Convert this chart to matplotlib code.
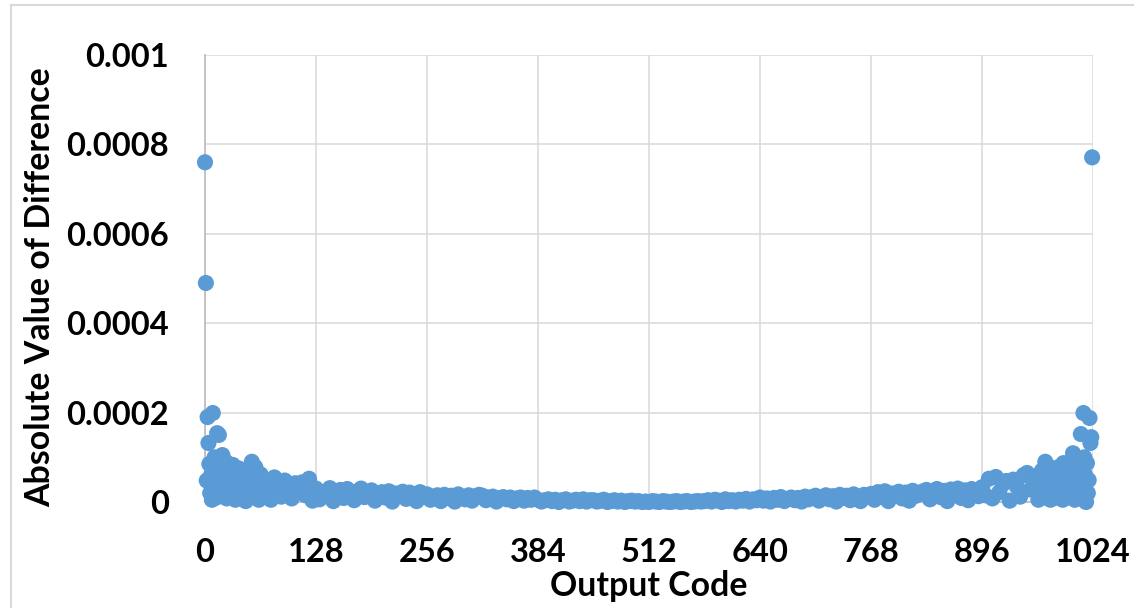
import numpy as np
import matplotlib
matplotlib.use('Agg')
from matplotlib import pyplot as plt
from matplotlib.lines import Line2D

# values are in units of 1e-6
left_codes = np.arange(0, 64)
left_vals = [760, 490, 48, 190, 132, 85, 20, 60, 5, 199, 40, 100, 70, 10, 154, 30,
             150, 55, 80, 15, 105, 40, 65, 25, 90, 8, 50, 35, 70, 12, 45, 20,
             83, 55, 20, 5, 60, 30, 40, 75, 15, 50, 10, 68, 55, 25, 30, 2,
             68, 40, 15, 58, 50, 20, 90, 35, 25, 45, 78, 10, 40, 62, 5, 33]

mid_codes = np.arange(64, 960, 4)
mid_vals = [62, 20, 45, 5, 55, 30, 12, 48, 38, 8, 42, 25, 44, 15, 52, 3,
            30, 6, 22, 14, 31, 2, 18, 27, 9, 29, 15, 4, 24, 30, 11, 20,
            26, 3, 17, 22, 10, 24, 1, 19, 13, 23, 7, 21, 16, 2, 22, 12,
            17, 5, 12, 15, 2, 16, 9, 14, 1, 17, 11, 6, 15, 3, 13, 16,
            14, 4, 10, 12, 1, 9, 11, 6, 10, 2, 8, 10, 3, 9, 5, 10,
            5, 1, 4, 6, 2, 5, 0, 4, 6, 1, 3, 5, 2, 6, 1, 4,
            4, 1, 3, 5, 0, 2, 4, 1, 3, 0, 2, 3, 1, 2, 0, 1,
            0, 2, 1, 0, 2, 1, 0, 1, 2, 0, 1, 2, 0, 1, 2, 1,
            2, 4, 1, 5, 3, 0, 6, 2, 4, 1, 5, 3, 7, 1, 6, 4,
            10, 3, 8, 1, 9, 5, 11, 2, 7, 10, 4, 9, 1, 12, 6, 11,
            14, 3, 11, 15, 6, 13, 1, 16, 9, 14, 4, 17, 10, 2, 16, 12,
            18, 5, 22, 12, 24, 2, 19, 15, 23, 8, 21, 3, 25, 14, 20, 24,
            27, 6, 20, 29, 11, 25, 2, 28, 17, 30, 9, 26, 4, 29, 21, 13,
            33, 15, 52, 8, 56, 22, 40, 47, 3, 50, 35, 12, 60, 65, 28, 45]

right_codes = np.arange(960, 1024)
right_vals = [30, 5, 50, 35, 15, 70, 45, 20, 55, 90, 10, 40, 80, 25, 62, 5,
              50, 35, 70, 15, 45, 60, 10, 30, 78, 55, 20, 65, 40, 5, 87, 70,
              25, 50, 10, 85, 35, 60, 15, 80, 30, 109, 45, 5, 70, 20, 90, 40,
              55, 10, 152, 75, 30, 199, 100, 60, 0, 87, 20, 49, 188, 132, 145, 771]

x_ticks = [0, 128, 256, 384, 512, 640, 768, 896, 1024]
y_ticks = [0, 0.0002, 0.0004, 0.0006, 0.0008, 0.001]
y_ticklabels = ['0', '0.0002', '0.0004', '0.0006', '0.0008', '0.001']

codes = np.concatenate([left_codes, mid_codes, right_codes])
vals = np.array(left_vals + mid_vals + right_vals) * 1e-6

plt.rcParams['font.family'] = ['Lato', 'DejaVu Sans']

fig = plt.figure(figsize=(11.34, 6.08), dpi=100)
ax = fig.add_axes([205 / 1134., 106 / 608., 888 / 1134., 447 / 608.])

ax.scatter(codes, vals, s=135, color='#5b9bd5', edgecolors='none', clip_on=False, zorder=3)

ax.set_xlim(0, 1024)
ax.set_ylim(0, 0.001)
ax.set_xticks(x_ticks)
ax.set_yticks(y_ticks)
ax.set_yticklabels(y_ticklabels)
ax.grid(True, color='#d9d9d9', lw=1.1)
ax.set_axisbelow(True)
for s in ['top', 'right']:
    ax.spines[s].set_visible(False)
for s in ['left', 'bottom']:
    ax.spines[s].set_color('#bfbfbf')
    ax.spines[s].set_linewidth(1.3)
ax.tick_params(length=0, labelsize=23.5, pad=26)
for lab in ax.get_xticklabels() + ax.get_yticklabels():
    lab.set_fontweight('bold')

ax.set_xlabel('Output Code', fontsize=24.4, fontweight='bold', labelpad=2)
ax.set_ylabel('Absolute Value of Difference', fontsize=24.4, fontweight='bold')
ax.yaxis.set_label_coords(-0.168, 0.481)

# chart border
fig.add_artist(Line2D([11 / 1134., 11 / 1134.], [0, 603 / 608.], transform=fig.transFigure, color='#d9d9d9', lw=1.5))
fig.add_artist(Line2D([11 / 1134., 1.0], [603 / 608., 603 / 608.], transform=fig.transFigure, color='#d9d9d9', lw=1.5))

fig.savefig('out.png', dpi=100)
